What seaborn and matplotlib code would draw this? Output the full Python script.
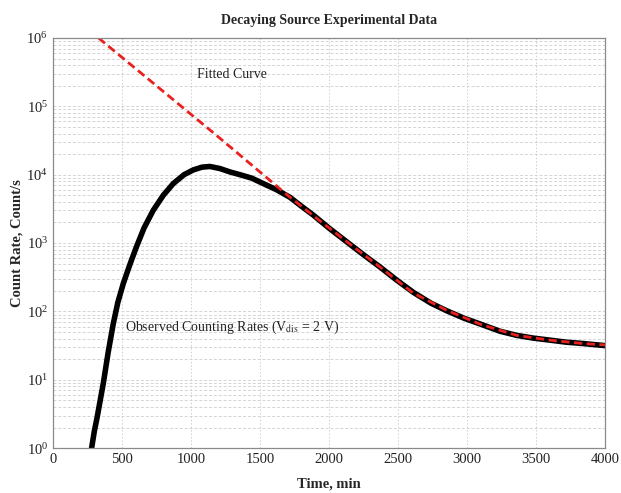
import numpy as np
import pandas as pd
import seaborn as sns
import matplotlib.pyplot as plt
from matplotlib.ticker import LogLocator, MultipleLocator, NullFormatter

# observed counting rates (log10 of count/s)
obs_time = [280, 300, 320, 365, 400, 437, 470, 510, 560, 606, 660, 727, 800, 872,
            950, 1017, 1080, 1138, 1210, 1283, 1355, 1440, 1524, 1620, 1717, 1800,
            1886, 2000, 2128, 2250, 2370, 2490, 2611, 2740, 2853, 2980, 3118, 3240,
            3360, 3480, 3601, 3720, 3843, 4000]
obs_log = [0.0, 0.25, 0.45, 0.95, 1.40, 1.82, 2.13, 2.41, 2.70, 2.95, 3.22, 3.48,
           3.70, 3.87, 4.00, 4.07, 4.11, 4.12, 4.09, 4.04, 4.00, 3.95, 3.87, 3.78,
           3.67, 3.54, 3.41, 3.22, 3.02, 2.83, 2.65, 2.46, 2.28, 2.12, 2.01, 1.90,
           1.80, 1.71, 1.65, 1.61, 1.58, 1.55, 1.53, 1.50]

# fitted curve
fit_time = [330, 600, 900, 1200, 1500, 1700, 1900, 2130, 2370, 2610, 2850, 3100,
            3360, 3600, 3840, 4000]
fit_log = [6.0, 5.55, 5.05, 4.55, 4.04, 3.70, 3.38, 3.02, 2.65, 2.27, 2.02, 1.81,
           1.65, 1.58, 1.53, 1.51]

obs = pd.DataFrame({"time": obs_time, "rate": np.power(10.0, obs_log)})
fit = pd.DataFrame({"time": fit_time, "rate": np.power(10.0, fit_log)})

sns.set_theme(style="white")
plt.rcParams["font.family"] = ["Liberation Serif", "DejaVu Serif"]
plt.rcParams["mathtext.fontset"] = "stix"

fig, ax = plt.subplots(figsize=(6.21, 4.93), dpi=100)
fig.subplots_adjust(left=0.0853, right=0.974, top=0.923, bottom=0.091)

sns.lineplot(data=obs, x="time", y="rate", color="black", linewidth=4,
             solid_capstyle="round", ax=ax)
sns.lineplot(data=fit, x="time", y="rate", color="#e8211f", linewidth=2,
             linestyle=(0, (3, 1.6)), ax=ax)

ax.set_yscale("log")
ax.set_xlim(0, 4000)
ax.set_ylim(1, 1e6)
ax.xaxis.set_major_locator(MultipleLocator(500))
ax.yaxis.set_major_locator(LogLocator(base=10, numticks=10))
ax.yaxis.set_minor_locator(LogLocator(base=10, subs=np.arange(2, 10), numticks=10))
ax.yaxis.set_minor_formatter(NullFormatter())

ax.grid(True, which="major", axis="x", color="#cfcfcf", linestyle=(0, (1.5, 2)), linewidth=0.7)
ax.grid(True, which="both", axis="y", color="#d4d4d4", linestyle=(0, (3, 2)), linewidth=0.7)

for s in ax.spines.values():
    s.set_color("#8a8a8a")
    s.set_linewidth(0.9)
ax.tick_params(axis="both", which="major", direction="in", length=3, color="#8a8a8a",
               labelsize=10.5, labelcolor="#222222")
ax.tick_params(axis="y", which="minor", direction="in", length=1.5, color="#8a8a8a")

ax.set_title("Decaying Source Experimental Data", fontsize=10, fontweight="bold", pad=10)
ax.set_xlabel("Time, min", fontsize=10.5, fontweight="bold", labelpad=8)
ax.set_ylabel("Count Rate, Count/s", fontsize=10.5, fontweight="bold", labelpad=2)

ax.text(1300, 10 ** 5.46, "Fitted Curve", fontsize=10, ha="center", va="center", color="#222222")
ax.text(520, 10 ** 1.77, r"Observed Counting Rates (V$_{\rm dis}$ = 2 V)", fontsize=10,
        ha="left", va="center", color="#222222")

fig.savefig("out.png", dpi=100)
